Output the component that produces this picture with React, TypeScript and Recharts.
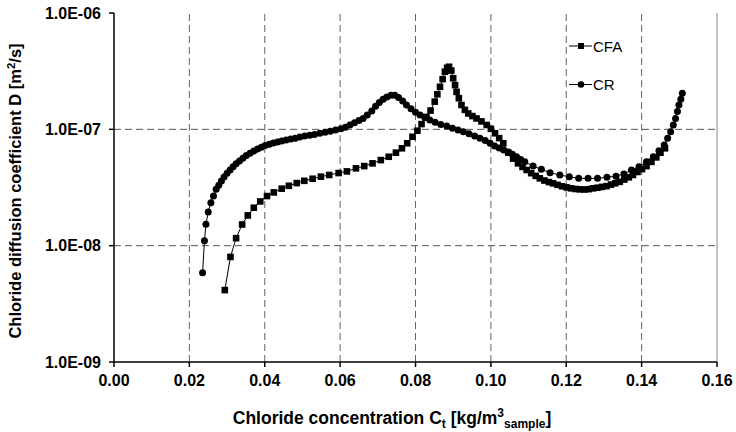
import React from 'react';
import { LineChart, Line, XAxis, YAxis, ReferenceLine } from 'recharts';

// chloride concentration [kg/m3] and diffusion coefficient [m2/s]
const cfaConc = [
  0.0294, 0.0309, 0.0324, 0.034, 0.0355, 0.0371, 0.0388, 0.0406, 0.0424, 0.0445,
  0.0464, 0.0485, 0.0505, 0.0527, 0.0549, 0.0571, 0.0596, 0.0618, 0.0642, 0.0664,
  0.0686, 0.0708, 0.0729, 0.0748, 0.0764, 0.0778, 0.0792, 0.0805, 0.0816, 0.0829,
  0.084, 0.0851, 0.0858, 0.0865, 0.0872, 0.0878, 0.0884, 0.0889, 0.0895, 0.09,
  0.0905, 0.0909, 0.0915, 0.0922, 0.0931, 0.094, 0.0951, 0.0962, 0.0975, 0.0989,
  0.1, 0.1011, 0.1022, 0.1033, 0.1046, 0.1059, 0.1072, 0.1084, 0.1095, 0.1107,
  0.1119, 0.113, 0.1142, 0.1154, 0.1165, 0.1177, 0.1189, 0.1201, 0.1213, 0.1225,
  0.1236, 0.1248, 0.126, 0.1271, 0.1283, 0.1295, 0.1307, 0.1319, 0.133, 0.1342,
  0.1354, 0.1366, 0.1377, 0.1389, 0.1401, 0.1413, 0.1426, 0.1439, 0.145, 0.1462,
];
const cfaD = [
  4.15e-9, 8.0e-9, 1.16e-8, 1.52e-8, 1.82e-8, 2.12e-8, 2.4e-8, 2.67e-8, 2.87e-8, 3.09e-8,
  3.27e-8, 3.45e-8, 3.61e-8, 3.76e-8, 3.92e-8, 4.05e-8, 4.21e-8, 4.35e-8, 4.62e-8, 4.83e-8,
  5.1e-8, 5.44e-8, 5.81e-8, 6.3e-8, 6.87e-8, 7.59e-8, 8.63e-8, 9.73e-8, 1.11e-7, 1.28e-7,
  1.45e-7, 1.73e-7, 2.0e-7, 2.32e-7, 2.7e-7, 3.13e-7, 3.38e-7, 3.45e-7, 3.2e-7, 2.75e-7,
  2.4e-7, 2.1e-7, 1.85e-7, 1.62e-7, 1.47e-7, 1.37e-7, 1.3e-7, 1.24e-7, 1.17e-7, 1.09e-7,
  1.01e-7, 9.25e-8, 8.4e-8, 7.59e-8, 6.3e-8, 5.6e-8, 5.1e-8, 4.75e-8, 4.47e-8, 4.2e-8,
  3.98e-8, 3.79e-8, 3.63e-8, 3.52e-8, 3.43e-8, 3.33e-8, 3.24e-8, 3.17e-8, 3.11e-8, 3.07e-8,
  3.05e-8, 3.04e-8, 3.06e-8, 3.11e-8, 3.15e-8, 3.2e-8, 3.25e-8, 3.35e-8, 3.44e-8, 3.54e-8,
  3.7e-8, 3.87e-8, 4.05e-8, 4.3e-8, 4.55e-8, 4.83e-8, 5.25e-8, 5.74e-8, 6.3e-8, 6.87e-8,
];

const crConc = [
  0.0235, 0.024, 0.0244, 0.025, 0.0257, 0.0264, 0.0271, 0.0278, 0.0285, 0.0292,
  0.03, 0.0308, 0.0316, 0.0324, 0.0333, 0.0342, 0.0351, 0.0361, 0.0371, 0.0381,
  0.0391, 0.0401, 0.0412, 0.0423, 0.0434, 0.0445, 0.0457, 0.0469, 0.0481, 0.0493,
  0.0506, 0.0519, 0.0532, 0.0546, 0.056, 0.0574, 0.0588, 0.0602, 0.0614, 0.0626,
  0.0638, 0.065, 0.0661, 0.0672, 0.0684, 0.0694, 0.0704, 0.0714, 0.0724, 0.0735,
  0.0745, 0.0755, 0.0766, 0.0776, 0.0788, 0.08, 0.0812, 0.0825, 0.0838, 0.0852,
  0.0867, 0.0883, 0.0898, 0.0913, 0.0927, 0.0942, 0.0957, 0.0971, 0.0985, 0.0998,
  0.101, 0.1022, 0.1034, 0.1046, 0.1057, 0.1068, 0.1079, 0.109, 0.1112, 0.1134,
  0.1157, 0.1183, 0.1208, 0.1233, 0.1258, 0.1283, 0.1308, 0.1332, 0.1353, 0.1373,
  0.1393, 0.1413, 0.1431, 0.1446, 0.146, 0.1469, 0.1477, 0.1484, 0.149, 0.1495,
  0.1499, 0.1504, 0.1508,
];
const crD = [
  5.85e-9, 1.1e-8, 1.53e-8, 1.95e-8, 2.34e-8, 2.67e-8, 3.05e-8, 3.3e-8, 3.6e-8, 3.9e-8,
  4.2e-8, 4.48e-8, 4.77e-8, 5.05e-8, 5.35e-8, 5.65e-8, 5.95e-8, 6.22e-8, 6.5e-8, 6.78e-8,
  7.02e-8, 7.25e-8, 7.45e-8, 7.62e-8, 7.8e-8, 7.95e-8, 8.1e-8, 8.25e-8, 8.4e-8, 8.6e-8,
  8.75e-8, 8.9e-8, 9.05e-8, 9.25e-8, 9.45e-8, 9.65e-8, 9.85e-8, 1.01e-7, 1.04e-7, 1.09e-7,
  1.14e-7, 1.19e-7, 1.24e-7, 1.33e-7, 1.44e-7, 1.58e-7, 1.7e-7, 1.81e-7, 1.9e-7, 1.96e-7,
  1.96e-7, 1.88e-7, 1.75e-7, 1.62e-7, 1.5e-7, 1.4e-7, 1.33e-7, 1.26e-7, 1.2e-7, 1.15e-7,
  1.1e-7, 1.07e-7, 1.02e-7, 9.85e-8, 9.53e-8, 9.15e-8, 8.75e-8, 8.37e-8, 8.0e-8, 7.59e-8,
  7.2e-8, 6.9e-8, 6.65e-8, 6.4e-8, 6.1e-8, 5.8e-8, 5.5e-8, 5.26e-8, 4.83e-8, 4.53e-8,
  4.24e-8, 4.05e-8, 3.91e-8, 3.79e-8, 3.79e-8, 3.79e-8, 3.87e-8, 3.96e-8, 4.13e-8, 4.47e-8,
  4.77e-8, 5.26e-8, 5.81e-8, 6.55e-8, 7.33e-8, 8.37e-8, 9.53e-8, 1.09e-7, 1.24e-7, 1.42e-7,
  1.62e-7, 1.81e-7, 2.04e-7,
];

const xTicks = [0, 0.02, 0.04, 0.06, 0.08, 0.1, 0.12, 0.14, 0.16];
const yTicks = [1e-9, 1e-8, 1e-7, 1e-6];
const xGrid = [0.02, 0.04, 0.06, 0.08, 0.1, 0.12, 0.14];
const yGrid = [1e-8, 1e-7];

const cfaData = cfaConc.map((x, i) => ({ x, y: cfaD[i] }));
const crData = crConc.map((x, i) => ({ x, y: crD[i] }));

const FONT = '"Liberation Sans", Arial, sans-serif';

const fmtExp = (v: number) => {
  const [m, e] = v.toExponential(1).split('e');
  const n = parseInt(e, 10);
  return `${m}E${n < 0 ? '-' : '+'}${String(Math.abs(n)).padStart(2, '0')}`;
};

const squareDot = (props: any) => {
  const { cx, cy, index } = props;
  if (cx == null || cy == null) return <g key={`s${index}`} />;
  return <rect key={`s${index}`} x={cx - 3.3} y={cy - 3.3} width={6.6} height={6.6} fill="#000" />;
};

const circleDot = (props: any) => {
  const { cx, cy, index } = props;
  if (cx == null || cy == null) return <g key={`c${index}`} />;
  return <circle key={`c${index}`} cx={cx} cy={cy} r={3.5} fill="#000" />;
};

const LegendBox = () => (
  <g>
    <line x1={569} x2={592} y1={46} y2={46} stroke="#000" strokeWidth={1} />
    <rect x={578} y={43} width={6} height={6} fill="#000" />
    <text x={593} y={51.5} fontFamily={FONT} fontSize={15} fill="#000">CFA</text>
    <line x1={569} x2={592} y1={84.5} y2={84.5} stroke="#000" strokeWidth={1} />
    <circle cx={581} cy={84.5} r={3.3} fill="#000" />
    <text x={593} y={90} fontFamily={FONT} fontSize={15} fill="#000">CR</text>
  </g>
);

const XTitle = () => (
  <text x={392} y={424} textAnchor="middle" fontFamily={FONT} fontSize={17.5} fontWeight="bold" fill="#000">
    Chloride concentration C
    <tspan fontSize={12} dy={4}>t</tspan>
    <tspan dy={-4}> [kg/m</tspan>
    <tspan fontSize={12} dy={-7}>3</tspan>
    <tspan fontSize={12} dy={11}>sample</tspan>
    <tspan dy={-4}>]</tspan>
  </text>
);

const YTitle = () => (
  <text
    x={0}
    y={0}
    transform="translate(21,191) rotate(-90)"
    textAnchor="middle"
    fontFamily={FONT}
    fontSize={16.5}
    fontWeight="bold"
    fill="#000"
  >
    Chloride diffusion coefficient D [m
    <tspan fontSize={11.5} dy={-6}>2</tspan>
    <tspan dy={6}>/s]</tspan>
  </text>
);

export default function App() {
  return (
    <div style={{ position: 'absolute', left: 0, top: 0, width: 736, height: 432 }}>
      <LineChart width={736} height={432} margin={{ top: 13, right: 19, bottom: 0, left: 0 }}>
        <XAxis
          type="number"
          dataKey="x"
          domain={[0, 0.16]}
          ticks={xTicks}
          tickFormatter={(v: number) => v.toFixed(2)}
          height={70}
          stroke="#000"
          strokeWidth={1.5}
          tickSize={5}
          tickMargin={8}
          tick={{ fill: '#000', fontFamily: FONT, fontSize: 16, fontWeight: 'bold' }}
          allowDataOverflow
        />
        <YAxis
          type="number"
          scale="log"
          domain={[1e-9, 1e-6]}
          ticks={yTicks}
          tickFormatter={fmtExp}
          width={114}
          stroke="#000"
          strokeWidth={1.5}
          tickSize={5}
          tickMargin={8}
          tick={{ fill: '#000', fontFamily: FONT, fontSize: 16, fontWeight: 'bold' }}
          allowDataOverflow
        />
        {xGrid.map((v) => (
          <ReferenceLine key={`gx${v}`} x={v} stroke="#666" strokeDasharray="7 4" strokeWidth={1} />
        ))}
        {yGrid.map((v) => (
          <ReferenceLine key={`gy${v}`} y={v} stroke="#555" strokeDasharray="7 4" strokeWidth={1} />
        ))}
        <ReferenceLine x={0.16} stroke="#888" strokeWidth={1} />
        <Line
          data={cfaData}
          dataKey="y"
          name="CFA"
          type="linear"
          stroke="#000"
          strokeWidth={1}
          dot={squareDot}
          activeDot={false}
          isAnimationActive={false}
        />
        <Line
          data={crData}
          dataKey="y"
          name="CR"
          type="linear"
          stroke="#000"
          strokeWidth={1}
          dot={circleDot}
          activeDot={false}
          isAnimationActive={false}
        />
        <LegendBox />
        <XTitle />
        <YTitle />
      </LineChart>
    </div>
  );
}
